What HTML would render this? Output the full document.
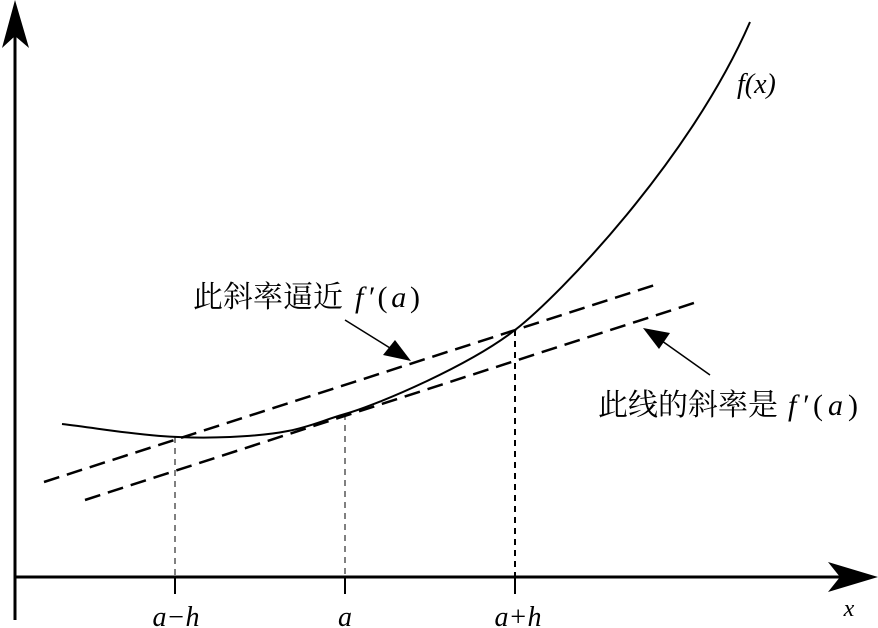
<!DOCTYPE html><html><head><style>body{margin:0;background:#fff}svg{display:block}text{font-family:"Liberation Serif","Noto Serif CJK SC",serif;fill:#000}</style></head><body>
<svg width="878" height="628" viewBox="0 0 878 628">
<line x1="15" y1="30" x2="15" y2="620" stroke="#000" stroke-width="3"/>
<polygon points="15,0 2,48 15,36 29,48" fill="#000"/>
<line x1="15" y1="577" x2="845" y2="577" stroke="#000" stroke-width="3"/>
<polygon points="878,577 828,562 840,577 828,592" fill="#000"/>
<g stroke="#000" stroke-width="2"><line x1="175" y1="577" x2="175" y2="594"/><line x1="345" y1="577" x2="345" y2="594"/><line x1="515" y1="577" x2="515" y2="594"/></g>
<g stroke="#000" stroke-dasharray="6,5"><line x1="175" y1="437" x2="175" y2="577" stroke-width="1"/><line x1="345" y1="414" x2="345" y2="577" stroke-width="1"/><line x1="515" y1="330" x2="515" y2="577" stroke-width="2"/></g>
<path fill="none" stroke="#000" stroke-width="2" d="M62,424 C120,431 160,440 230,437 S310,424 345,414 S470,365 515,330 S690,160 750,22"/>
<g stroke="#000" stroke-width="2.5" stroke-dasharray="16,8"><line x1="44" y1="482" x2="658" y2="284"/><line x1="85" y1="500" x2="697" y2="302"/></g>
<line x1="345" y1="320" x2="398" y2="353" stroke="#000" stroke-width="1.5"/>
<polygon points="411,361 383,355 395,340" fill="#000"/>
<line x1="710" y1="375" x2="655" y2="336" stroke="#000" stroke-width="1.5"/>
<polygon points="643,328 670,333 659,349" fill="#000"/>
<text x="193" y="307" font-size="30">此斜率逼近</text>
<text x="355" y="307" font-size="30" textLength="65" lengthAdjust="spacing"><tspan font-style="italic">f′</tspan>(<tspan font-style="italic">a</tspan>)</text>
<text x="598" y="415" font-size="30">此线的斜率是</text>
<text x="788" y="415" font-size="30" textLength="70" lengthAdjust="spacing"><tspan font-style="italic">f′</tspan>(<tspan font-style="italic">a</tspan>)</text>
<text x="737" y="93" font-size="28" font-style="italic">f(x)</text>
<g font-size="28" font-style="italic" text-anchor="middle"><text x="176" y="626">a−h</text><text x="345" y="626">a</text><text x="518" y="626">a+h</text><text x="849" y="616" font-size="24">x</text></g>
</svg></body></html>
